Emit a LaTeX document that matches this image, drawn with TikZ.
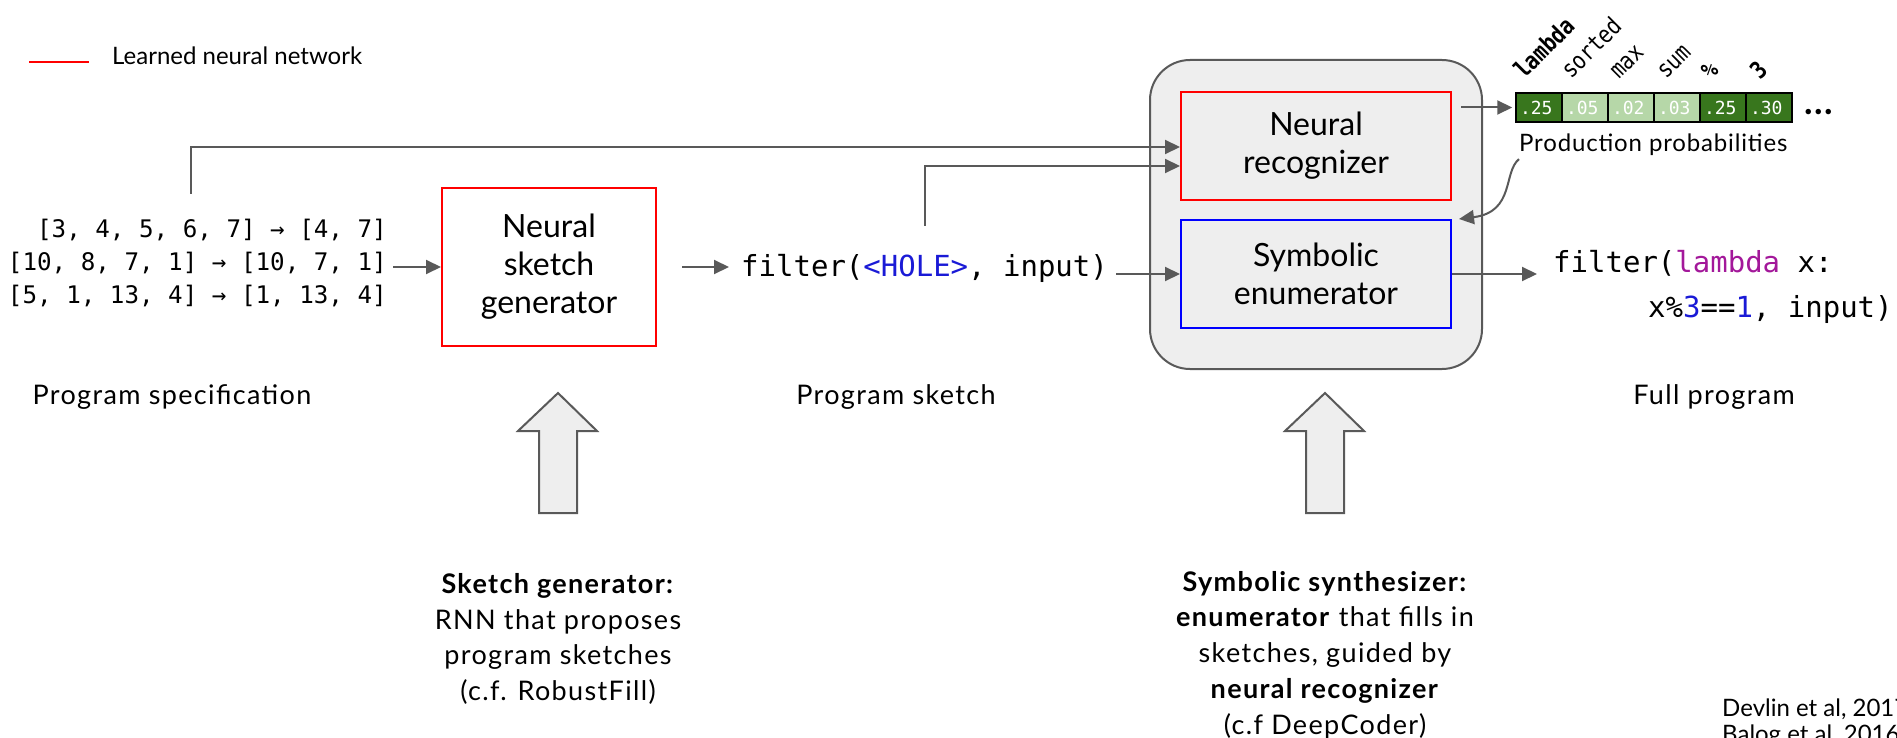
\documentclass[tikz,border=0pt]{standalone}
\usepackage{fontspec}
\setmainfont{Lato}
\setmonofont{DejaVu Sans Mono}
\usetikzlibrary{arrows.meta}
\definecolor{arrgray}{HTML}{595959}
\definecolor{dkgreen}{HTML}{38761D}
\definecolor{ltgreen}{HTML}{B6D7A8}
\definecolor{boxgray}{HTML}{EEEEEE}
\definecolor{lampurple}{HTML}{A3189A}
\definecolor{numblue}{HTML}{1A1AD6}
\newcommand{\diagtext}[1]{\rotatebox{45}{\makebox[0pt][l]{\smash{#1}}}}
\begin{document}
\begin{tikzpicture}[x=1pt,y=-1pt,
  conn/.style={draw=arrgray,line width=2pt,-{Triangle[length=15pt,width=14pt]}},
  nnbox/.style={draw=red,line width=2pt,inner sep=0pt,font=\fontsize{32}{38}\selectfont,align=center},
  symbox/.style={draw=blue,line width=2pt,inner sep=0pt,font=\fontsize{32}{38}\selectfont,align=center},
  outerbox/.style={draw=arrgray,line width=2pt,fill=boxgray,rounded corners=40pt},
  spectext/.style={font=\ttfamily\fontsize{24.2}{33}\selectfont,align=right,inner sep=0pt},
  codetext/.style={font=\ttfamily\fontsize{29}{35}\selectfont,inner sep=0pt},
  cell/.style={draw=black,line width=1.5pt,text=white,minimum height=29pt,text width=38pt,inner xsep=4pt,inner ysep=0pt,align=left,font=\ttfamily\fontsize{18}{20}\selectfont},
  hdr/.style={inner sep=0pt,font=\ttfamily\fontsize{24}{24}\selectfont\addfontfeature{FakeStretch=0.85}},
  lbl/.style={font=\fontsize{27}{30}\selectfont\addfontfeature{LetterSpace=5},inner sep=0pt},
  small/.style={font=\fontsize{24}{26}\selectfont,inner sep=0pt},
  desc/.style={font=\fontsize{27}{35.8}\selectfont\addfontfeature{LetterSpace=5},align=center,inner sep=0pt},
  hollow/.style={draw=arrgray,line width=2pt,fill=boxgray,line join=miter}
]
\useasboundingbox (0,0) rectangle (1897,738);

% legend
\coordinate (lg1) at (29,62);
\coordinate (lg2) at (89,62);
\draw[red,line width=2.5pt] (lg1) -- (lg2);
\node[small,anchor=base west] (legend) at (112,65) {Learned neural network};

% outer box
\node[outerbox,minimum width=332pt,minimum height=309pt] (outer) at (1316,214.5) {};
\node[nnbox,minimum width=270pt,minimum height=108pt] (recog) at (1316,146) {Neural\\recognizer};
\node[symbox,minimum width=270pt,minimum height=108pt] (enum) at (1316,274) {Symbolic\\enumerator};

% spec
\node[spectext,anchor=east] (spec) at (387,263) {[3, 4, 5, 6, 7] → [4, 7]\\{}[10, 8, 7, 1] → [10, 7, 1]\\{}[5, 1, 13, 4] → [1, 13, 4]};

% sketch generator
\node[nnbox,minimum width=214pt,minimum height=158pt] (gen) at (549,267) {Neural\\sketch\\generator};

% sketch
\node[codetext,anchor=west] (sketch) at (741,268) {filter(\textcolor{numblue}{<HOLE>}, input)};

% full program
\node[codetext,anchor=west] (full1) at (1553,263) {filter(\textcolor{lampurple}{lambda} x:};
\node[codetext,anchor=west] (full2) at (1648,309) {x\%\textcolor{numblue}{3}==\textcolor{numblue}{1}, input)};

% probability table
\node[cell,fill=dkgreen] (c1) at (1539,107.5) {.25};
\node[cell,fill=ltgreen] (c2) at (1585,107.5) {.05};
\node[cell,fill=ltgreen] (c3) at (1631,107.5) {.02};
\node[cell,fill=ltgreen] (c4) at (1677,107.5) {.03};
\node[cell,fill=dkgreen] (c5) at (1723,107.5) {.25};
\node[cell,fill=dkgreen] (c6) at (1769,107.5) {.30};
\node[hdr] (h1) at (1524,80) {\diagtext{\textbf{lambda}}};
\node[hdr] (h2) at (1571,80) {\diagtext{sorted}};
\node[hdr] (h3) at (1619,80) {\diagtext{max}};
\node[hdr] (h4) at (1666,80) {\diagtext{sum}};
\node[hdr] (h5) at (1711,81) {\diagtext{\textbf{\%}}};
\node[hdr] (h6) at (1760,81) {\diagtext{\textbf{3}}};
\node[font=\bfseries\fontsize{36}{38}\selectfont\addfontfeature{LetterSpace=4},anchor=base west,inner sep=0pt] (dots) at (1804,115) {...};
\node[small,anchor=west] (prod) at (1519,145) {\addfontfeature{LetterSpace=3.5}Production probabilities};

% connectors
\draw[conn] ([xshift=6pt]spec.east |- gen.west) -- (gen.west);
\draw[conn] ([xshift=25pt]gen.east) -- ([xshift=-12pt]gen.east -| sketch.west);
\draw[conn] ([xshift=8pt]sketch.east |- enum.west) -- (enum.west);
\draw[conn] ([yshift=28pt]sketch.north) |- ([yshift=-20pt]recog.west);
\draw[conn] ([xshift=-6pt,yshift=25pt]spec.north) |- ([yshift=-1pt]recog.west);
\draw[conn] ([xshift=9pt]recog.east |- c1.west) -- ([xshift=-3pt]c1.west);
\draw[conn] ([yshift=-3pt]prod.south west) .. controls (1503,172) and (1515,212) .. ([xshift=7pt]enum.north east);
\draw[conn] (enum.east) -- ([xshift=-16pt]enum.east -| full1.west);

% labels
\node[lbl] (lspec) at (172,397) {Program specification};
\node[lbl] (lsketch) at (896,397) {Program sketch};
\node[lbl] (lfull) at (1714,397) {Full program};

% hollow arrows
\draw[hollow] (558,393) -- (597,431) -- (577,431) -- (577,513) -- (539,513) -- (539,431) -- (518,431) -- cycle;
\draw[hollow] (1325,393) -- (1364,431) -- (1344,431) -- (1344,513) -- (1306,513) -- (1306,431) -- (1285,431) -- cycle;

% descriptions
\node[desc] (dgen) at (558,639) {\textbf{Sketch generator:}\\RNN that proposes\\program sketches\\(c.f. RobustFill)};
\node[desc] (dsym) at (1325,655) {\textbf{Symbolic synthesizer:}\\\textbf{enumerator} that fills in\\sketches, guided by\\\textbf{neural recognizer}\\(c.f DeepCoder)};

% citation
\node[small,anchor=base west,align=left] (cite) at (1722,716) {Devlin et al, 2017};
\node[small,anchor=base west,align=left] (cite2) at (1722,742) {Balog et al, 2016};
\end{tikzpicture}
\end{document}
